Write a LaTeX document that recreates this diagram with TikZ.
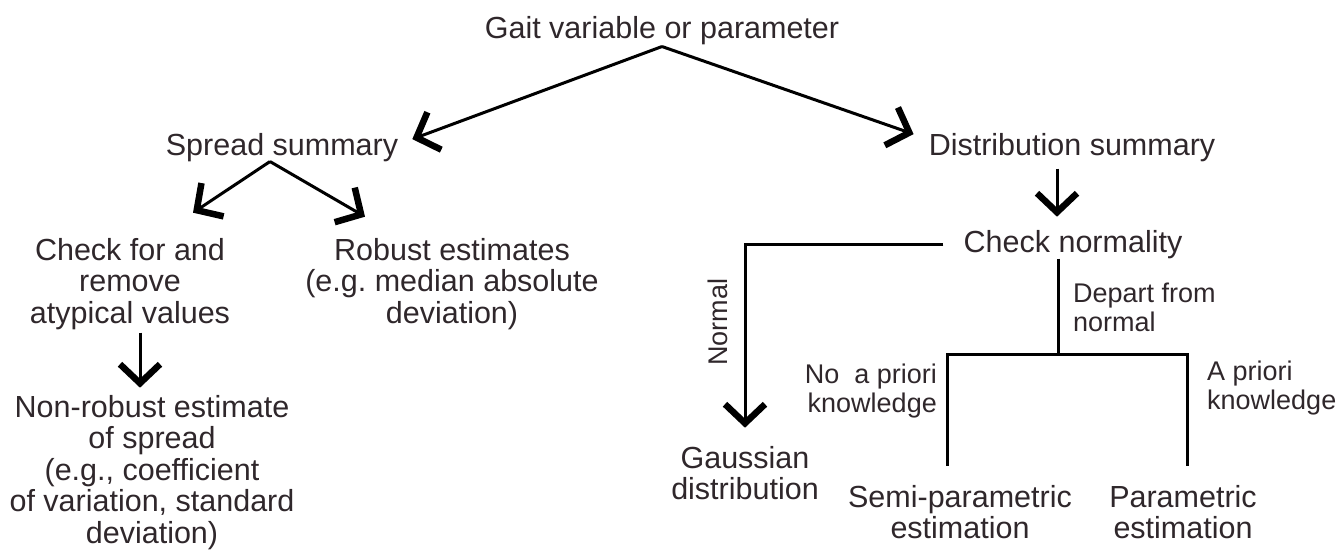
\documentclass[tikz,border=0pt]{standalone}
\usepackage{fontspec}
\setmainfont{Liberation Sans}
\usepackage{tikz}
\usetikzlibrary{positioning, arrows.meta}
\definecolor{ink}{HTML}{2F272B}

\begin{document}
\begin{tikzpicture}[x=1pt, y=-1pt,
  every node/.style={inner sep=0pt, text=ink},
  txt/.style={font=\fontsize{30.5}{31.5}\selectfont, align=center, anchor=base},
  lbl/.style={font=\fontsize{27}{29}\selectfont},
  link/.style={line width=3pt},
  arr/.style={link, -{Straight Barb[length=19pt, width=40pt, line width=6.5pt]}}]
\useasboundingbox (0,0) rectangle (1339,550);

% root
\node[txt] (gait) at (662,38) {Gait variable or parameter};

% spread branch (base = last line)
\node[txt] (spread) at (282,155) {Spread summary};
\node[txt] (chkrm) at (130,323) {Check for and\\remove\\atypical values};
\node[txt] (robust) at (452,323) {Robust estimates\\(e.g.\ median absolute\\deviation)};
\node[txt] (nonrob) at (152,543) {Non-robust estimate\\of spread\\(e.g., coefficient\\of variation, standard\\deviation)};

% distribution branch
\node[txt] (dist) at (1072,155) {Distribution summary};
\node[txt] (chknorm) at (1073,252) {Check normality};
\node[txt] (gauss) at (745,499.5) {Gaussian\\distribution};
\node[txt] (semi) at (960,538.5) {Semi-parametric\\estimation};
\node[txt] (param) at (1183,538.5) {Parametric\\estimation};
\coordinate (split) at (1058,354);

% branch labels
\node[lbl, rotate=90] (lnormal) at (718,322) {Normal};
\node[lbl, align=left, anchor=base west] (ldepart) at (1073,331) {Depart from\\normal};
\node[lbl, align=right, anchor=base east] (lnoprior) at (937,412) {No\ \ a priori\\knowledge};
\node[lbl, align=left, anchor=base west] (lprior) at (1207,409) {A priori\\knowledge};

% top split
\draw[arr] ([yshift=-2pt]gait.south) -- ([shift={(14pt,8pt)}]spread.east);
\draw[arr] ([yshift=-2pt]gait.south) -- ([shift={(-15pt,13pt)}]dist.west);

% spread arrows
\draw[arr] ([xshift=-12pt]spread.south) -- ([shift={(63pt,25pt)}]chkrm.north);
\draw[arr] ([xshift=-12pt]spread.south) -- ([shift={(-87pt,21pt)}]robust.north);
\draw[arr] ([shift={(10pt,-3pt)}]chkrm.south) -- ([shift={(-12pt,7pt)}]nonrob.north);

% normality tree
\draw[arr] ([shift={(-15pt,-7pt)}]dist.south) -- ([shift={(-16pt,13pt)}]chknorm.north);
\draw[arr] ([xshift=-20pt]chknorm.west) -| ([yshift=18pt]gauss.north);
\draw[link] ([xshift=-15pt]chknorm.south) -- (split);
\draw[link] ([shift={(-13pt,19pt)}]semi.north) |- (split) -| ([shift={(4pt,19pt)}]param.north);
\end{tikzpicture}
\end{document}
